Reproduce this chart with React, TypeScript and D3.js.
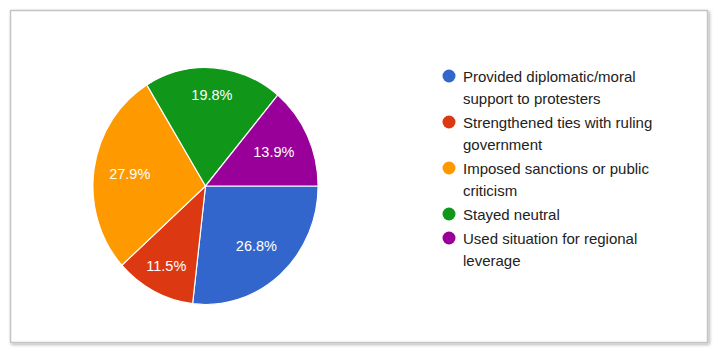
import React from "react";
import * as d3 from "d3";

const categories = [
  "Provided diplomatic/moral support to protesters",
  "Strengthened ties with ruling government",
  "Imposed sanctions or public criticism",
  "Stayed neutral",
  "Used situation for regional leverage",
];
const legendLines = [
  ["Provided diplomatic/moral", "support to protesters"],
  ["Strengthened ties with ruling", "government"],
  ["Imposed sanctions or public", "criticism"],
  ["Stayed neutral"],
  ["Used situation for regional", "leverage"],
];
const values = [26.8, 11.5, 27.9, 19.8, 13.9];
const colors = ["#3366cc", "#dc3912", "#ff9900", "#109618", "#990099"];
const labelRadius = [0.68, 0.76, 0.68, 0.77, 0.67];

export default function App() {
  const W = 719, H = 354;
  const cx = 205.5, cy = 186, R = 118.5, sx = 0.95;
  const pie = d3.pie<number>().value((d) => d).sort(null)
    .startAngle(Math.PI / 2).endAngle(Math.PI / 2 + 2 * Math.PI);
  const arcs = pie(values);
  const arc = d3.arc<d3.PieArcDatum<number>>().innerRadius(0).outerRadius(R);

  const legendX = 449;
  const lineH = 22;
  const itemGap = 2;
  let y = 76;
  const legendItems = legendLines.map((lines, i) => {
    const top = y;
    y += lines.length * lineH + itemGap;
    return { lines, top, i };
  });

  return (
    <svg width={W} height={H} style={{ position: "absolute", left: 0, top: 0, fontFamily: "Arial, 'Liberation Sans', sans-serif" }}>
      <defs>
        <filter id="sh" x="-5%" y="-5%" width="110%" height="115%">
          <feDropShadow dx="1.5" dy="1.5" stdDeviation="1.5" floodColor="#000" floodOpacity="0.3" />
        </filter>
      </defs>
      <rect x={0} y={0} width={W} height={H} fill="#fff" />
      <rect x={10.5} y={10.5} width={697} height={332} fill="#fff" stroke="#c4c4c4" strokeWidth={1.5} filter="url(#sh)" />
      <g transform={`translate(${cx},${cy}) scale(${sx},1)`}>
        {arcs.map((a, i) => (
          <path key={i} d={arc(a) || ""} fill={colors[i]} stroke="#fff" strokeWidth={1.2} />
        ))}
      </g>
      <g transform={`translate(${cx},${cy})`}>
        {arcs.map((a, i) => {
          const r = R * labelRadius[i];
          const [lx, ly] = d3.arc<d3.PieArcDatum<number>>().innerRadius(r).outerRadius(r).centroid(a);
          return (
            <text key={i} x={lx * sx} y={ly} textAnchor="middle" dominantBaseline="central" fill="#fff" fontSize={14.5}>
              {values[i].toFixed(1)}%
            </text>
          );
        })}
      </g>
      {legendItems.map(({ lines, top, i }) => (
        <g key={i}>
          <circle cx={legendX} cy={top} r={6.5} fill={colors[i]} />
          {lines.map((l, j) => (
            <text key={j} x={463} y={top + j * lineH} dominantBaseline="central" fontSize={15} fill="#222">
              {l}
            </text>
          ))}
        </g>
      ))}
    </svg>
  );
}
